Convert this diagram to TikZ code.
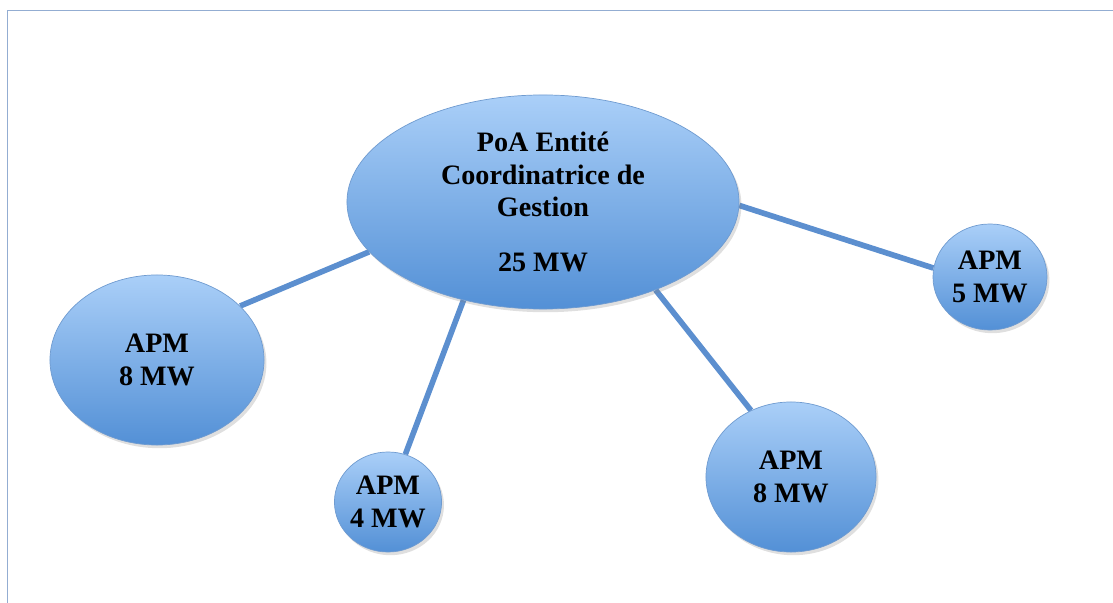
\documentclass[tikz,border=0pt]{standalone}
\usepackage{fontspec}
\setmainfont{Liberation Serif}
\usetikzlibrary{shapes.geometric,shadows,backgrounds}

\definecolor{bulleHaut}{HTML}{AACFF8}
\definecolor{bulleBas}{HTML}{5390D6}
\definecolor{bulleBord}{HTML}{6F9BD0}
\definecolor{lienBleu}{HTML}{5C8FCF}
\definecolor{cadreBleu}{HTML}{93ADD2}

\tikzstyle{bulle} = [ellipse, draw=bulleBord, line width=0.5pt, top color=bulleHaut, bottom color=bulleBas, drop shadow={shadow xshift=0.6mm, shadow yshift=-0.8mm, opacity=0.25}, align=center, inner sep=0pt, font=\bfseries\fontsize{20}{23}\selectfont]
\tikzstyle{lien} = [line width=4pt, lienBleu]

\begin{document}
\begin{tikzpicture}[x=0.025cm, y=-0.025cm]
\useasboundingbox (0,0) rectangle (1113,603);
\draw [cadreBleu, line width=1.4pt] (7.5,603) -- (7.5,10.5) -- (1113,10.5);

\node (coord) [bulle, minimum width=9.8cm, minimum height=5.35cm] at (543,202) {PoA Entité\\Coordinatrice de\\Gestion\\[0.8em]25 MW};
\node (apmg) [bulle, minimum width=5.35cm, minimum height=4.25cm] at (157,360) {APM\\8 MW};
\node (apmp) [bulle, minimum width=2.65cm, minimum height=2.5cm] at (388,502) {APM\\4 MW};
\node (apmb) [bulle, minimum width=4.25cm, minimum height=3.75cm] at (791,477) {APM\\8 MW};
\node (apmd) [bulle, minimum width=2.85cm, minimum height=2.65cm] at (990,277) {APM\\5 MW};

\begin{scope}[on background layer]
\draw [lien] (coord.196) -- (apmg.33);
\draw [lien] (coord.231) -- (apmp.70);
\draw [lien] (coord.-38) -- (apmb.121);
\draw [lien] (coord.-1.5) -- (apmd.171);
\end{scope}
\end{tikzpicture}
\end{document}
